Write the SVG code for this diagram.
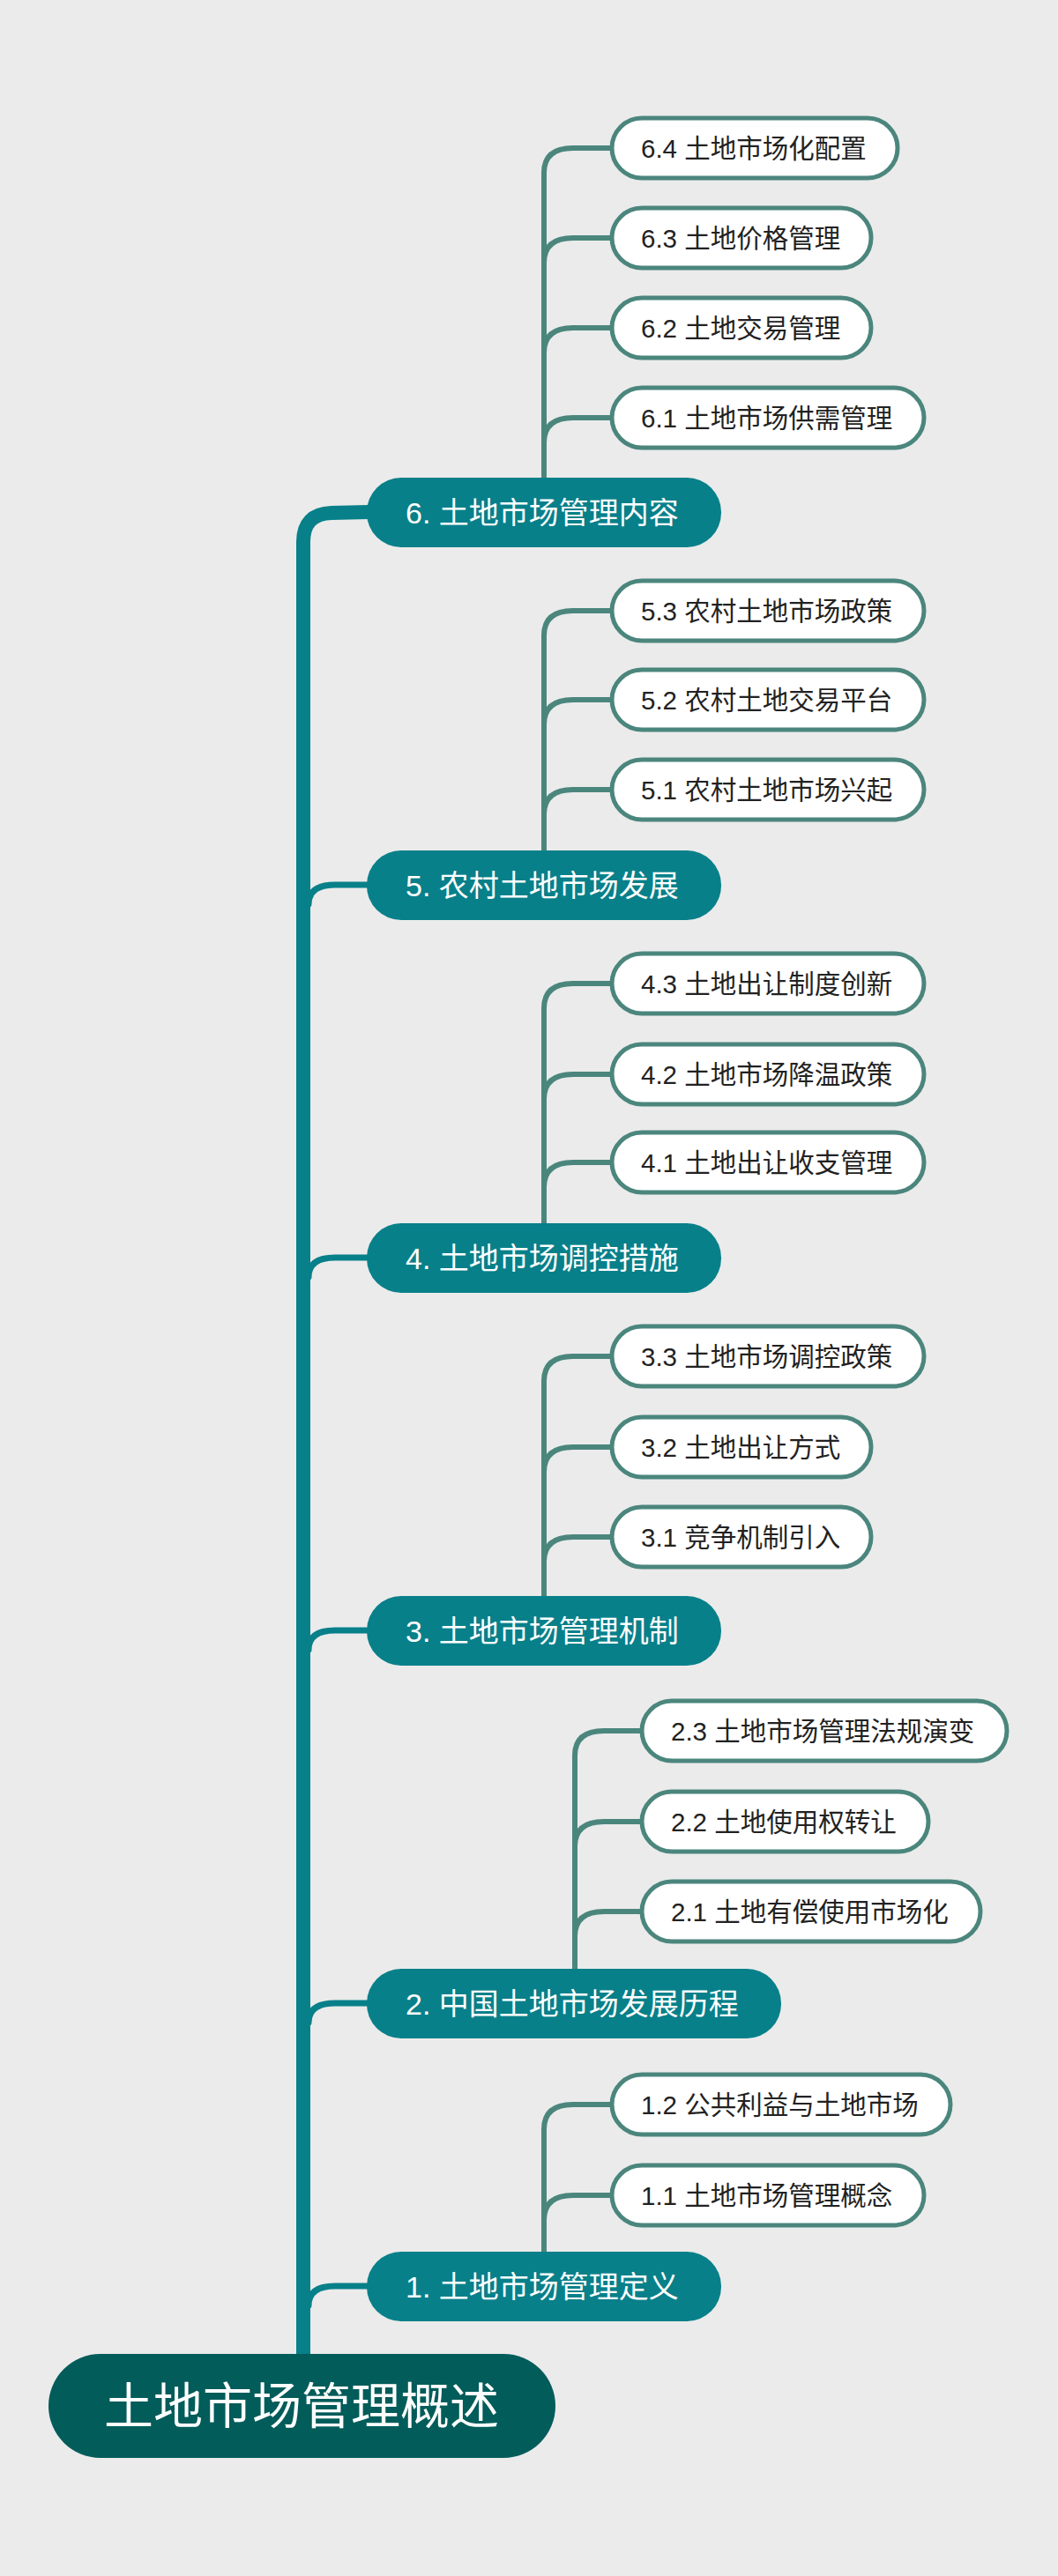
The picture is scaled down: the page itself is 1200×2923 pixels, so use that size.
<svg xmlns="http://www.w3.org/2000/svg" width="1200" height="2923" viewBox="0 0 1200 2923">
<style>
.l1 rect{fill:#08808a}
.l1 text{fill:#fff;font-size:34px}
.l2 rect{fill:#fff;stroke:#4b867d;stroke-width:5}
.l2 text{fill:#222;font-size:29.5px}
text{font-family:"Liberation Sans","Noto Sans CJK SC",sans-serif;dominant-baseline:central}
.trunk{fill:none;stroke:#08808a;stroke-linecap:round}
.sub{fill:none;stroke:#4b867d;stroke-width:6}
</style>
<rect width="1200" height="2923" fill="#ebebeb"/>
<g id="connectors">
<path class="trunk" stroke-width="16" d="M344 2680 L344 615 Q344 583 376 582 L418 581"/>
<path class="trunk" stroke-width="7" d="M350 1026 Q350 1004 380 1004 L418 1004"/>
<path class="trunk" stroke-width="7" d="M350 1449 Q350 1427 380 1427 L418 1427"/>
<path class="trunk" stroke-width="7" d="M350 1872 Q350 1850 380 1850 L418 1850"/>
<path class="trunk" stroke-width="7" d="M350 2295 Q350 2273 380 2273 L418 2273"/>
<path class="trunk" stroke-width="7" d="M350 2616 Q350 2594 380 2594 L418 2594"/>
<path class="sub" d="M617 542 L617 196 Q617 168 650 168 L694 168 M617 298 Q617 270 650 270 L694 270 M617 400 Q617 372 650 372 L694 372 M617 502 Q617 474 650 474 L694 474"/>
<path class="sub" d="M617 965 L617 721 Q617 693 650 693 L694 693 M617 822 Q617 794 650 794 L694 794 M617 924 Q617 896 650 896 L694 896"/>
<path class="sub" d="M617 1388 L617 1144 Q617 1116 650 1116 L694 1116 M617 1247 Q617 1219 650 1219 L694 1219 M617 1347 Q617 1319 650 1319 L694 1319"/>
<path class="sub" d="M617 1811 L617 1567 Q617 1539 650 1539 L694 1539 M617 1670 Q617 1642 650 1642 L694 1642 M617 1772 Q617 1744 650 1744 L694 1744"/>
<path class="sub" d="M652 2234 L652 1992 Q652 1964 685 1964 L728 1964 M652 2095 Q652 2067 685 2067 L728 2067 M652 2197 Q652 2169 685 2169 L728 2169"/>
<path class="sub" d="M617 2555 L617 2416 Q617 2388 650 2388 L694 2388 M617 2519 Q617 2491 650 2491 L694 2491"/>
</g>
<g id="root"><rect x="55" y="2671" width="575" height="118" rx="59" fill="#025c5a"/><text x="342" y="2730" text-anchor="middle" fill="#fff" font-size="56">土地市场管理概述</text></g>
<g id="n6" class="l1"><rect x="416" y="542" width="402" height="79" rx="39"/><text x="460" y="582">6. 土地市场管理内容</text></g>
<g id="n5" class="l1"><rect x="416" y="965" width="402" height="79" rx="39"/><text x="460" y="1005">5. 农村土地市场发展</text></g>
<g id="n4" class="l1"><rect x="416" y="1388" width="402" height="79" rx="39"/><text x="460" y="1428">4. 土地市场调控措施</text></g>
<g id="n3" class="l1"><rect x="416" y="1811" width="402" height="79" rx="39"/><text x="460" y="1851">3. 土地市场管理机制</text></g>
<g id="n2" class="l1"><rect x="416" y="2234" width="470" height="79" rx="39"/><text x="460" y="2274">2. 中国土地市场发展历程</text></g>
<g id="n1" class="l1"><rect x="416" y="2555" width="402" height="79" rx="39"/><text x="460" y="2595">1. 土地市场管理定义</text></g>
<g id="n64" class="l2"><rect x="694" y="134" width="324" height="68" rx="34"/><text x="727" y="168">6.4 土地市场化配置</text></g>
<g id="n63" class="l2"><rect x="694" y="236" width="294" height="68" rx="34"/><text x="727" y="270">6.3 土地价格管理</text></g>
<g id="n62" class="l2"><rect x="694" y="338" width="294" height="68" rx="34"/><text x="727" y="372">6.2 土地交易管理</text></g>
<g id="n61" class="l2"><rect x="694" y="440" width="354" height="68" rx="34"/><text x="727" y="474">6.1 土地市场供需管理</text></g>
<g id="n53" class="l2"><rect x="694" y="659" width="354" height="68" rx="34"/><text x="727" y="693">5.3 农村土地市场政策</text></g>
<g id="n52" class="l2"><rect x="694" y="760" width="354" height="68" rx="34"/><text x="727" y="794">5.2 农村土地交易平台</text></g>
<g id="n51" class="l2"><rect x="694" y="862" width="354" height="68" rx="34"/><text x="727" y="896">5.1 农村土地市场兴起</text></g>
<g id="n43" class="l2"><rect x="694" y="1082" width="354" height="68" rx="34"/><text x="727" y="1116">4.3 土地出让制度创新</text></g>
<g id="n42" class="l2"><rect x="694" y="1185" width="354" height="68" rx="34"/><text x="727" y="1219">4.2 土地市场降温政策</text></g>
<g id="n41" class="l2"><rect x="694" y="1285" width="354" height="68" rx="34"/><text x="727" y="1319">4.1 土地出让收支管理</text></g>
<g id="n33" class="l2"><rect x="694" y="1505" width="354" height="68" rx="34"/><text x="727" y="1539">3.3 土地市场调控政策</text></g>
<g id="n32" class="l2"><rect x="694" y="1608" width="294" height="68" rx="34"/><text x="727" y="1642">3.2 土地出让方式</text></g>
<g id="n31" class="l2"><rect x="694" y="1710" width="294" height="68" rx="34"/><text x="727" y="1744">3.1 竞争机制引入</text></g>
<g id="n23" class="l2"><rect x="728" y="1930" width="414" height="68" rx="34"/><text x="761" y="1964">2.3 土地市场管理法规演变</text></g>
<g id="n22" class="l2"><rect x="728" y="2033" width="325" height="68" rx="34"/><text x="761" y="2067">2.2 土地使用权转让</text></g>
<g id="n21" class="l2"><rect x="728" y="2135" width="384" height="68" rx="34"/><text x="761" y="2169">2.1 土地有偿使用市场化</text></g>
<g id="n12" class="l2"><rect x="694" y="2354" width="384" height="68" rx="34"/><text x="727" y="2388">1.2 公共利益与土地市场</text></g>
<g id="n11" class="l2"><rect x="694" y="2457" width="354" height="68" rx="34"/><text x="727" y="2491">1.1 土地市场管理概念</text></g>
</svg>
